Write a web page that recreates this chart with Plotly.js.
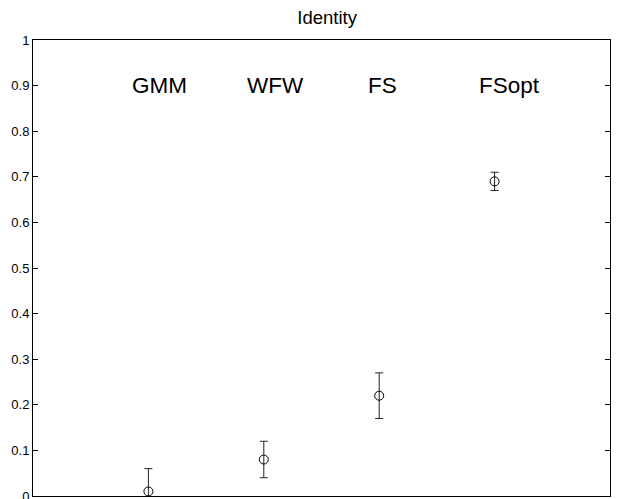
<!DOCTYPE html>
<html>
<head>
<meta charset="utf-8">
<script src="https://cdn.plot.ly/plotly-3.0.1.min.js"></script>
<style>html,body{margin:0;padding:0;background:#fff;}#chart{width:622px;height:499px;}</style>
</head>
<body>
<div id="chart"></div>
<script>
const methods = ["GMM", "WFW", "FS", "FSopt"];
const xPos = [1, 2, 3, 4];
const means = [0.01, 0.08, 0.22, 0.69];
const errPlus = [0.05, 0.04, 0.05, 0.02];
const errMinus = [0.05, 0.04, 0.05, 0.02];
const labelX = [1.1, 2.1, 3.03, 4.13];
const labelY = [0.9, 0.9, 0.9, 0.9];
const yTicks = [0, 0.1, 0.2, 0.3, 0.4, 0.5, 0.6, 0.7, 0.8, 0.9, 1];
const yTickText = ["0", "0.1", "0.2", "0.3", "0.4", "0.5", "0.6", "0.7", "0.8", "0.9", "1"];

const trace = {
  x: xPos, y: means, type: "scatter", mode: "markers",
  marker: {symbol: "circle-open", size: 9, color: "#000", line: {width: 1, color: "#000"}},
  error_y: {type: "data", symmetric: false, array: errPlus, arrayminus: errMinus,
            color: "#222", thickness: 1, width: 4},
  hoverinfo: "none", showlegend: false
};

const annotations = methods.map((m, i) => ({
  x: labelX[i], y: labelY[i], xref: "x", yref: "y", text: m, showarrow: false,
  font: {family: "Liberation Sans, Arial, sans-serif", size: 22.5, color: "#000"},
  xanchor: "center", yanchor: "middle"
}));

const layout = {
  width: 622, height: 499,
  margin: {l: 33, r: 12, t: 40, b: 3, pad: 0},
  paper_bgcolor: "#fff", plot_bgcolor: "#fff",
  font: {family: "Liberation Sans, Arial, sans-serif", color: "#000"},
  title: {text: "Identity", x: 0.526, xanchor: "center", y: 0.964, yanchor: "middle",
          font: {size: 18.5, color: "#000"}},
  xaxis: {range: [0, 5], showticklabels: false, ticks: "", showgrid: false, zeroline: false,
          showline: true, linecolor: "#000", linewidth: 1, mirror: true},
  yaxis: {range: [0, 1], tickvals: yTicks, ticktext: yTickText, ticks: "inside", ticklen: 5,
          tickcolor: "#000", tickwidth: 1, tickfont: {size: 13, color: "#000"},
          ticklabeloverflow: "allow",
          showgrid: false, zeroline: false, showline: true, linecolor: "#000", linewidth: 1,
          mirror: "ticks"},
  annotations: annotations
};

Plotly.newPlot("chart", [trace], layout, {displayModeBar: false, staticPlot: true});
</script>
</body>
</html>
